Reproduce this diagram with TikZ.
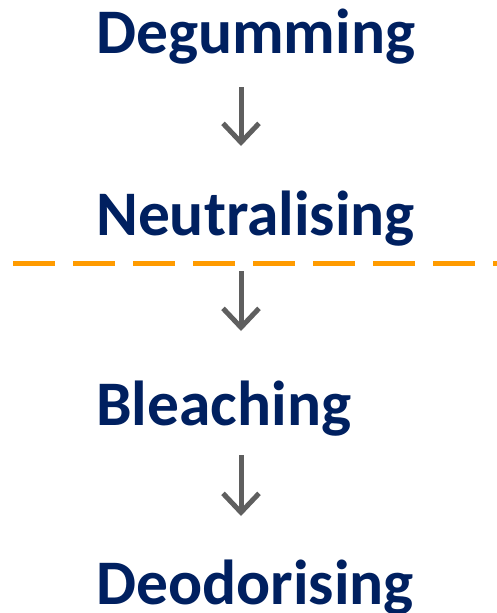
\documentclass[tikz,border=0pt]{standalone}
\usepackage{fontspec}
\setmainfont{Carlito}
\usetikzlibrary{arrows.meta}
\definecolor{navy}{RGB}{0,32,96}
\definecolor{arrgray}{RGB}{95,95,95}
\definecolor{dashorange}{RGB}{255,155,0}
\tikzset{
  stage/.style={anchor=base west, inner sep=0pt, text=navy, font=\fontsize{63.5}{63.5}\selectfont\bfseries},
  arr/.style={draw=arrgray, line width=5pt, -{Straight Barb[length=19pt, width=36pt, line width=5pt]}},
  sep/.style={draw=dashorange, line width=5pt, dash pattern=on 42pt off 18pt}
}
\begin{document}
\begin{tikzpicture}[x=1pt,y=-1pt]
\useasboundingbox (0,0) rectangle (496,613);
\node[stage] (deg) at (96,53) {Degumming};
\node[stage] (neu) at (96,235) {Neutralising};
\node[stage] (ble) at (96,425) {Bleaching};
\node[stage] (deo) at (96,604) {Deodorising};
\coordinate (a1s) at (241,87);  \coordinate (a1e) at (241,146);
\coordinate (a2s) at (241,271); \coordinate (a2e) at (241,331);
\coordinate (a3s) at (241,455); \coordinate (a3e) at (241,516);
\coordinate (dl) at (13,263);   \coordinate (dr) at (500,263);
\draw[arr] (a1s) -- (a1e);
\draw[arr] (a2s) -- (a2e);
\draw[arr] (a3s) -- (a3e);
\draw[sep] (dl) -- (dr);
\end{tikzpicture}
\end{document}
